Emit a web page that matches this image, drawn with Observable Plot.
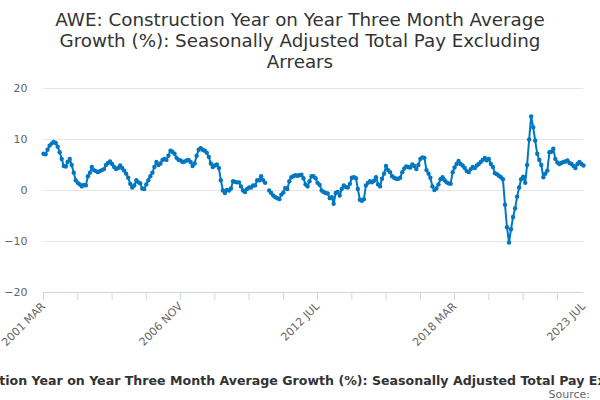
<!DOCTYPE html>
<html><head><meta charset="utf-8">
<script src="https://cdn.jsdelivr.net/npm/d3@7"></script>
<script src="https://cdn.jsdelivr.net/npm/@observablehq/plot@0.6"></script>
<style>
body{margin:0;background:#fff;font-family:"DejaVu Sans",sans-serif;width:600px;height:400px;overflow:hidden}
#title{text-align:center;font-size:18.3px;line-height:21px;color:#333;padding-top:9px;height:63px;width:600px}
#chart{height:290px}
#caption{display:flex;justify-content:center;width:600px;white-space:nowrap;font-weight:bold;font-size:12.6px;line-height:16px;color:#333;margin-top:11px}
#caption span{position:relative;left:5px}
#source{text-align:right;font-size:11px;line-height:12px;color:#666;padding-right:10px;width:590px}
</style></head>
<body>
<div id="title">AWE: Construction Year on Year Three Month Average<br>Growth (%): Seasonally Adjusted Total Pay Excluding<br>Arrears</div>
<div id="chart"></div>
<div id="caption"><span>AWE: Construction Year on Year Three Month Average Growth (%): Seasonally Adjusted Total Pay Excluding Arrears</span></div>
<div id="source">Source:</div>
<script>
const startMonth = "2001-03";
const values = [
7.2,7.1,8.0,8.8,9.2,9.5,9.3,8.6,7.5,6.2,4.8,4.7,5.6,6.2,5.0,3.5,2.0,1.5,1.2,0.8,
1.1,1.0,2.8,3.5,4.6,4.0,3.8,3.6,3.8,4.0,4.2,5.0,5.4,5.7,5.2,4.6,4.2,4.4,4.9,4.4,
3.9,3.3,2.5,1.3,0.6,1.0,2.0,1.6,1.4,0.4,0.3,1.2,2.0,2.8,3.5,4.6,5.6,5.0,5.3,6.0,
6.2,6.0,6.8,7.8,7.6,7.2,6.4,6.0,5.9,5.6,5.7,5.9,6.0,5.6,4.8,5.3,6.8,8.0,8.3,8.0,
7.8,7.4,6.6,5.3,4.6,4.9,5.1,4.4,2.0,0.0,-0.5,0.1,0.0,0.4,1.8,1.7,1.6,1.6,0.8,0.0,
-0.3,0.3,0.6,0.6,1.0,1.0,2.0,2.0,2.8,2.0,1.5,null,0.0,-0.5,-1.0,-1.3,-1.5,-1.7,-0.8,-0.4,
0.5,0.3,1.8,2.6,2.8,3.0,2.9,3.0,3.1,2.4,1.2,0.8,1.8,2.8,2.8,2.4,1.5,1.1,0.0,-0.3,
-0.5,-0.6,-1.5,-1.3,-2.6,-0.5,-0.3,-1.0,0.3,1.0,0.7,0.6,1.3,2.5,2.6,2.4,0.3,-1.8,-2.0,-1.7,
1.0,1.5,1.8,1.6,1.9,2.6,1.2,0.8,2.3,3.3,4.8,4.0,3.6,2.8,2.5,2.3,2.3,2.5,3.6,4.3,
4.7,4.6,4.5,5.1,4.8,4.2,5.0,6.2,6.5,6.4,4.0,3.3,2.5,0.8,0.1,0.4,1.2,2.2,2.6,2.0,
1.6,1.4,1.3,3.6,4.5,5.2,5.8,5.2,4.9,4.4,3.8,3.6,4.2,4.6,4.4,4.9,5.2,5.6,6.0,6.4,
5.9,6.2,5.2,4.6,3.4,3.2,2.9,2.6,2.2,-2.8,-7.2,-10.2,-7.6,-5.2,-3.5,-1.2,0.6,2.2,2.7,1.5,
5.0,10.0,14.5,12.4,9.8,7.2,6.0,5.0,2.6,3.3,3.9,7.5,7.6,8.2,6.2,5.5,5.2,5.4,5.6,5.7,
5.9,5.4,5.2,4.8,4.4,5.2,5.6,5.2,4.9
];
const yTicks = [-20, -10, 0, 10, 20];
const xTickLabels = ["2001 MAR", "2006 NOV", "2012 JUL", "2018 MAR", "2023 JUL"];
const minorTickStep = 17;

const parseMonth = d3.utcParse("%Y-%m");
const parseLabel = d3.utcParse("%Y %b");
const fmtLabel = d => d3.utcFormat("%Y %b")(d).toUpperCase();
const start = parseMonth(startMonth);
const data = values.map((v, i) => ({date: d3.utcMonth.offset(start, i), value: v}));
const dates = data.map(d => d.date);
const labelDates = xTickLabels.map(s => parseLabel(s.slice(0, 6) + s.slice(6).toLowerCase()));
const minorTicks = dates.filter((d, i) => i % minorTickStep === 0);
const blue = "#0077c0";

const chart = Plot.plot({
  width: 600, height: 290,
  marginTop: 16, marginBottom: 70, marginLeft: 43, marginRight: 17,
  style: {fontFamily: "DejaVu Sans", fontSize: "11px", background: "white"},
  x: {type: "utc", domain: [dates[0], dates[dates.length - 1]], label: null},
  y: {domain: [-20, 20], label: null},
  marks: [
    Plot.gridY(yTicks, {stroke: "#e6e6e6", strokeOpacity: 1}),
    Plot.axisY(yTicks, {tickSize: 0, tickPadding: 16, fill: "#666", label: null}),
    Plot.ruleY([-20], {stroke: "#ccd6eb"}),
    Plot.axisX(minorTicks, {tickSize: 8, stroke: "#ccd6eb", tickFormat: () => "", label: null}),
    Plot.axisX(labelDates, {tickSize: 0, tickPadding: 12, tickRotate: -45, fill: "#666", tickFormat: fmtLabel, label: null}),
    Plot.line(data, {x: "date", y: "value", stroke: blue, strokeWidth: 2}),
    Plot.dot(data.filter(d => d.value != null), {x: "date", y: "value", r: 2.2, fill: blue})
  ]
});
document.getElementById("chart").appendChild(chart);
</script>
</body></html>
